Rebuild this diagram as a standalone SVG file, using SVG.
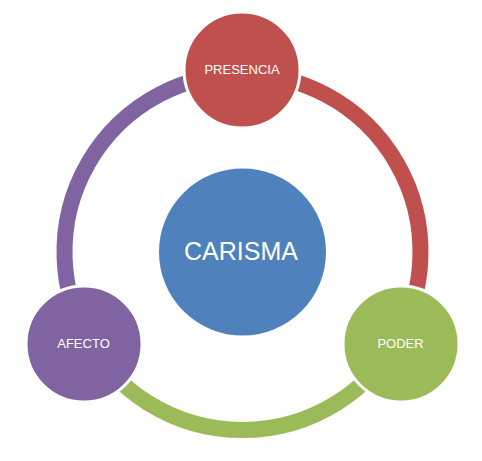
<svg xmlns="http://www.w3.org/2000/svg" width="482" height="461" viewBox="0 0 482 461">
<style>
.arc{fill:none;stroke-width:16}
.node{stroke:#fff;stroke-width:3}
.lbl{font-family:"Liberation Sans",Arial,sans-serif;fill:#fff;text-anchor:middle}
</style>
<rect width="482" height="461" fill="#fff"/>
<g id="connectors">
<path class="arc" stroke="#C0504D" d="M 242.5 74 A 178 178 0 0 1 396.65 341"/>
<path class="arc" stroke="#9BBB59" d="M 396.65 341 A 178 178 0 0 1 88.35 341"/>
<path class="arc" stroke="#8064A2" d="M 88.35 341 A 178 178 0 0 1 242.5 74"/>
</g>
<g id="carisma">
<circle class="node" cx="242.5" cy="252" r="85" fill="#4F81BD"/>
<text class="lbl" x="241" y="260" font-size="25">CARISMA</text>
</g>
<g id="presencia">
<circle class="node" cx="242" cy="70" r="58" fill="#C0504D"/>
<text class="lbl" x="242" y="74" font-size="13">PRESENCIA</text>
</g>
<g id="poder">
<circle class="node" cx="401" cy="344" r="58" fill="#9BBB59"/>
<text class="lbl" x="400.5" y="347.5" font-size="13">PODER</text>
</g>
<g id="afecto">
<circle class="node" cx="84" cy="344" r="58" fill="#8064A2"/>
<text class="lbl" x="83.5" y="347.5" font-size="13">AFECTO</text>
</g>
</svg>
